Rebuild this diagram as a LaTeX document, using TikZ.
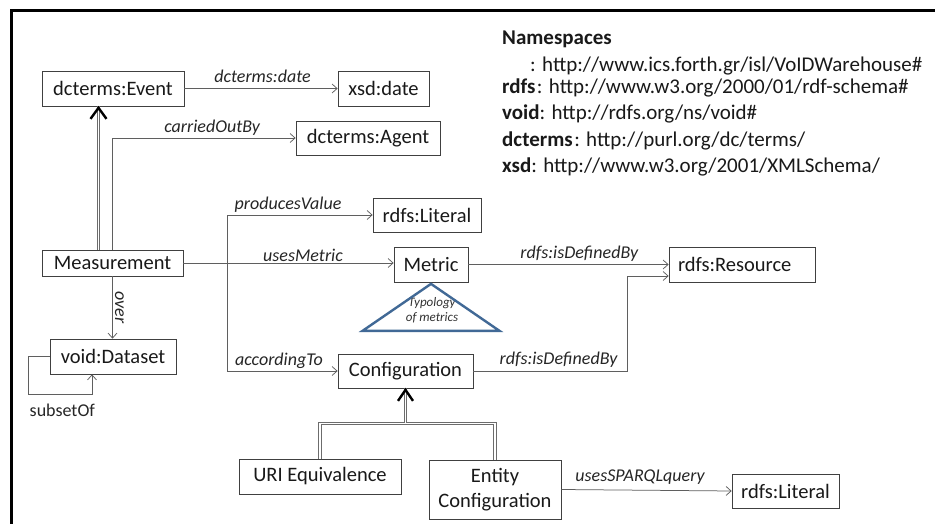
\documentclass[tikz,border=0pt]{standalone}
\usepackage{fontspec}
\setmainfont{Carlito}
\usetikzlibrary{arrows.meta,calc}
\definecolor{boxline}{RGB}{64,64,64}
\definecolor{conline}{RGB}{95,95,95}
\definecolor{triblue}{RGB}{65,105,150}
\begin{document}
\begin{tikzpicture}[x=1pt,y=-1pt,
 box/.style={draw=boxline, line width=0.75pt, inner sep=0pt, font=\fontsize{20.5}{25}\selectfont, text=black!90},
 conn/.style={draw=conline, line width=0.75pt, -{Straight Barb[length=5pt,width=9pt]}},
 lbl/.style={font=\itshape\fontsize{18}{21}\selectfont, inner sep=0pt, anchor=base, text=black!85},
 gen/.style={draw=gray!85!black, double=white, double distance=1.5pt, line width=0.9pt, line join=miter},
 genhead/.style={draw=black, line width=2.4pt, line join=miter, line cap=butt},
 ns/.style={font=\fontsize{21}{25}\selectfont, inner sep=0pt, anchor=base west, text=black!90}
]
\useasboundingbox (0,0) rectangle (935,524);
\fill[white] (0,0) rectangle (935,524);
\draw[line width=3pt] (11,524) -- (11,11) -- (935,11);

% nodes
\node[box, minimum width=142pt, minimum height=35pt] (evt) at (113,88.5) {dcterms:Event};
\node[box, minimum width=91pt, minimum height=35pt] (xsd) at (383.5,88.5) {xsd:date};
\node[box, minimum width=144pt, minimum height=34pt] (agent) at (368,138) {dcterms:Agent};
\node[box, minimum width=108pt, minimum height=34pt] (lit1) at (427,215) {rdfs:Literal};
\node[box, minimum width=141pt, minimum height=26pt] (meas) at (112.5,263) {Measurement};
\node[box, minimum width=74pt, minimum height=35pt] (metric) at (431,264.5) {Metric};
\node[box, minimum width=146pt, minimum height=35pt, text width=128pt, align=left, inner xsep=9pt] (res) at (742,264.5) {rdfs:Resource};
\node[box, minimum width=126pt, minimum height=35pt] (ds) at (113,356.5) {void:Dataset};
\node[box, minimum width=135pt, minimum height=34pt] (conf) at (405.5,371) {Configuration};
\node[box, minimum width=162pt, minimum height=35pt] (uri) at (320,476.5) {URI Equivalence};
\node[box, minimum width=132pt, minimum height=59pt, align=center] (ent) at (495,489.5) {Entity\\Configuration};
\node[box, minimum width=107pt, minimum height=34pt] (lit2) at (785.5,491) {rdfs:Literal};

% typology triangle
\node[font=\itshape\fontsize{13}{14.5}\selectfont, align=center, inner sep=0pt, text=black!80] (typ) at (432,310) {Typology\\of metrics};
\draw[triblue, line width=2.4pt, line join=miter] ($(metric.south)+(0,1.5)$) -- ++(68.5,47) -- ++(-137,0) -- cycle;

% namespaces
\node[ns, font=\bfseries\fontsize{21}{25}\selectfont] (nsh) at (502,45) {Namespaces};
\node[ns] (ns0) at (530,71.5) {: http://www.ics.forth.gr/isl/VoIDWarehouse\#};
\node[ns] (ns1) at (502,93.5) {\textbf{rdfs}\hspace{1.5pt}: http://www.w3.org/2000/01/rdf-schema\#};
\node[ns] (ns2) at (502,120) {\textbf{void}: http://rdfs.org/ns/void\#};
\node[ns] (ns3) at (502,146.5) {\textbf{dcterms}\hspace{1.5pt}: http://purl.org/dc/terms/};
\node[ns] (ns4) at (502,172) {\textbf{xsd}: http://www.w3.org/2001/XMLSchema/};

% connectors
\draw[conn] (evt) -- node[lbl, pos=0.51, yshift=6pt] {dcterms:date} (xsd);
\draw[conn] (meas.north) |- node[lbl, pos=0.772, yshift=5.6pt] {carriedOutBy} (agent.west);
\coordinate (br) at ($(meas.east)+(44,0)$);
\draw[conn] (meas.east) -- (br) |- node[lbl, pos=0.709, yshift=5.7pt] {producesValue} (lit1.west);
\draw[conn] (meas.east) -- node[lbl, pos=0.569, yshift=1.5pt] {usesMetric} (meas.east -| metric.west);
\draw[conn] (br) |- node[lbl, pos=0.734, yshift=6pt] {accordingTo} (conf.west);
\draw[conn] (metric) -- node[lbl, pos=0.554, yshift=6pt] {rdfs:isDefinedBy} (res);
\draw[conn] (conf.east) -| node[lbl, pos=0.276, yshift=6.4pt] {rdfs:isDefinedBy} ($(res.west)+(-41,11.5)$) -- ([yshift=-11.5pt]res.west);
\draw[conn] (ent.east) -- node[lbl, pos=0.462, yshift=8.5pt] {usesSPARQLquery} (lit2.west);
\draw[conn] (meas.south) -- node[lbl, pos=0.5, xshift=2.5pt, rotate=-90] {over} (meas.south |- ds.north);
\draw[conn] (ds.west) -- ++(-21,0) -- ++(0,37.5) -| node[lbl, font=\fontsize{18}{21}\selectfont, pos=0.266, yshift=-22.7pt] {subsetOf} ([xshift=-21pt]ds.south);

% generalisations
\coordinate (ma) at ([xshift=-14pt]meas.north);
\coordinate (mb) at (ma |- evt.south);
\draw[gen] (ma) -- (mb);
\draw[genhead] ($(mb)+(-8,12.5)$) -- ($(mb)+(0,1.5)$) -- ($(mb)+(8,12.5)$);
\coordinate (j0) at ($(conf.south)+(0,35)$);
\coordinate (j1) at (uri.north |- j0);
\coordinate (j2) at (ent.north |- j0);
\draw[gen] (uri.north) -- (j1) -- (j2) -- (ent.north);
\draw[gen] (conf.south) -- (j0);
\draw[genhead] ($(conf.south)+(-7.5,12.5)$) -- ($(conf.south)+(0,1.5)$) -- ($(conf.south)+(7.5,12.5)$);
\end{tikzpicture}
\end{document}
